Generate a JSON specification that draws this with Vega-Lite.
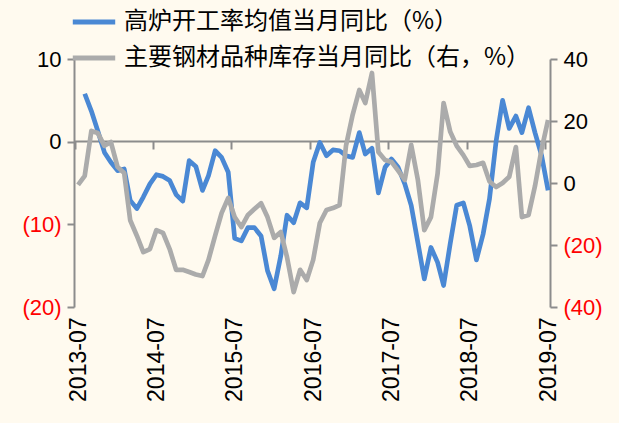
{
  "$schema": "https://vega.github.io/schema/vega-lite/v6.json",
  "width": 476,
  "height": 248,
  "autosize": {"type": "none"},
  "padding": {"left": 74, "top": 59, "right": 69, "bottom": 116},
  "background": "#FFFAEF",
  "config": {
    "view": {"stroke": null},
    "axis": {"grid": false, "labelFont": "Liberation Sans", "labelFontSize": 22, "labelColor": "black", "domainColor": "#8C8C8C", "tickColor": "#8C8C8C", "domainWidth": 2, "tickWidth": 2, "title": null}
  },
  "data": {"values": [
    {"month": "2013-07-01", "blast": null, "steel": -0.6},
    {"month": "2013-08-01", "blast": 5.8, "steel": 2.3},
    {"month": "2013-09-01", "blast": 3.7, "steel": 16.8},
    {"month": "2013-10-01", "blast": 1.3, "steel": 16.1},
    {"month": "2013-11-01", "blast": -1.3, "steel": 12.0},
    {"month": "2013-12-01", "blast": -2.5, "steel": 13.2},
    {"month": "2014-01-01", "blast": -3.5, "steel": 5.2},
    {"month": "2014-02-01", "blast": -3.3, "steel": 3.2},
    {"month": "2014-03-01", "blast": -7.1, "steel": -12.0},
    {"month": "2014-04-01", "blast": -8.1, "steel": -17.0},
    {"month": "2014-05-01", "blast": -6.7, "steel": -22.3},
    {"month": "2014-06-01", "blast": -5.1, "steel": -21.3},
    {"month": "2014-07-01", "blast": -4.0, "steel": -15.2},
    {"month": "2014-08-01", "blast": -4.2, "steel": -16.1},
    {"month": "2014-09-01", "blast": -4.7, "steel": -21.3},
    {"month": "2014-10-01", "blast": -6.4, "steel": -28.0},
    {"month": "2014-11-01", "blast": -7.2, "steel": -28.0},
    {"month": "2014-12-01", "blast": -2.3, "steel": -28.7},
    {"month": "2015-01-01", "blast": -3.0, "steel": -29.5},
    {"month": "2015-02-01", "blast": -5.9, "steel": -30.0},
    {"month": "2015-03-01", "blast": -4.1, "steel": -24.8},
    {"month": "2015-04-01", "blast": -1.1, "steel": -17.0},
    {"month": "2015-05-01", "blast": -1.9, "steel": -9.7},
    {"month": "2015-06-01", "blast": -3.7, "steel": -4.8},
    {"month": "2015-07-01", "blast": -11.7, "steel": -11.0},
    {"month": "2015-08-01", "blast": -12.0, "steel": -14.2},
    {"month": "2015-09-01", "blast": -10.4, "steel": -10.3},
    {"month": "2015-10-01", "blast": -10.4, "steel": -8.4},
    {"month": "2015-11-01", "blast": -11.4, "steel": -6.5},
    {"month": "2015-12-01", "blast": -15.6, "steel": -11.0},
    {"month": "2016-01-01", "blast": -17.8, "steel": -17.7},
    {"month": "2016-02-01", "blast": -13.8, "steel": -15.8},
    {"month": "2016-03-01", "blast": -8.9, "steel": -23.9},
    {"month": "2016-04-01", "blast": -9.8, "steel": -35.2},
    {"month": "2016-05-01", "blast": -7.4, "steel": -28.0},
    {"month": "2016-06-01", "blast": -8.0, "steel": -31.3},
    {"month": "2016-07-01", "blast": -2.5, "steel": -24.8},
    {"month": "2016-08-01", "blast": -0.1, "steel": -12.9},
    {"month": "2016-09-01", "blast": -1.7, "steel": -8.7},
    {"month": "2016-10-01", "blast": -1.0, "steel": -8.1},
    {"month": "2016-11-01", "blast": -1.1, "steel": -7.1},
    {"month": "2016-12-01", "blast": -1.7, "steel": 12.0},
    {"month": "2017-01-01", "blast": -1.9, "steel": 22.0},
    {"month": "2017-02-01", "blast": 1.1, "steel": 30.0},
    {"month": "2017-03-01", "blast": -1.5, "steel": 25.8},
    {"month": "2017-04-01", "blast": -0.8, "steel": 35.5},
    {"month": "2017-05-01", "blast": -6.2, "steel": 10.0},
    {"month": "2017-06-01", "blast": -3.1, "steel": 7.4},
    {"month": "2017-07-01", "blast": -2.1, "steel": 6.8},
    {"month": "2017-08-01", "blast": -3.1, "steel": 4.0},
    {"month": "2017-09-01", "blast": -5.1, "steel": 1.0},
    {"month": "2017-10-01", "blast": -7.7, "steel": 12.3},
    {"month": "2017-11-01", "blast": -12.2, "steel": 1.0},
    {"month": "2017-12-01", "blast": -16.6, "steel": -15.2},
    {"month": "2018-01-01", "blast": -12.8, "steel": -11.0},
    {"month": "2018-02-01", "blast": -14.6, "steel": 3.0},
    {"month": "2018-03-01", "blast": -17.4, "steel": 25.8},
    {"month": "2018-04-01", "blast": -12.3, "steel": 16.5},
    {"month": "2018-05-01", "blast": -7.7, "steel": 12.0},
    {"month": "2018-06-01", "blast": -7.4, "steel": 9.0},
    {"month": "2018-07-01", "blast": -10.2, "steel": 5.5},
    {"month": "2018-08-01", "blast": -14.3, "steel": 5.8},
    {"month": "2018-09-01", "blast": -11.2, "steel": 6.5},
    {"month": "2018-10-01", "blast": -6.9, "steel": 0.5},
    {"month": "2018-11-01", "blast": 0.1, "steel": -1.3},
    {"month": "2018-12-01", "blast": 5.0, "steel": 0.0},
    {"month": "2019-01-01", "blast": 1.6, "steel": 2.0},
    {"month": "2019-02-01", "blast": 3.1, "steel": 11.6},
    {"month": "2019-03-01", "blast": 1.1, "steel": -11.0},
    {"month": "2019-04-01", "blast": 4.1, "steel": -10.3},
    {"month": "2019-05-01", "blast": 1.1, "steel": -1.0},
    {"month": "2019-06-01", "blast": -1.7, "steel": 11.0},
    {"month": "2019-07-01", "blast": -5.9, "steel": 20.3}
  ]},
  "layer": [
    {
      "mark": {"type": "line", "strokeWidth": 4.7, "strokeJoin": "round"},
      "encoding": {
        "x": {
          "field": "month", "type": "temporal",
          "scale": {"type": "utc", "domain": [{"year": 2013, "month": 6, "date": 12, "utc": true}, {"year": 2019, "month": 7, "date": 10, "utc": true}]},
          "axis": {
            "orient": "bottom", "offset": -166, "labels": false, "domain": true, "ticks": true, "tickSize": 8,
            "values": [
              {"year": 2013, "month": 6, "date": 16, "utc": true},
              {"year": 2014, "month": 6, "date": 16, "utc": true},
              {"year": 2015, "month": 6, "date": 16, "utc": true},
              {"year": 2016, "month": 6, "date": 16, "utc": true},
              {"year": 2017, "month": 6, "date": 16, "utc": true},
              {"year": 2018, "month": 6, "date": 16, "utc": true},
              {"year": 2019, "month": 6, "date": 16, "utc": true}
            ]
          }
        },
        "y": {
          "field": "blast", "type": "quantitative",
          "scale": {"domain": [-20, 10], "nice": false, "zero": false},
          "axis": {
            "orient": "left", "values": [-20, -10, 0, 10], "tickSize": 7, "labelPadding": 6,
            "labelExpr": "datum.value < 0 ? '(' + abs(datum.value) + ')' : datum.value + '\u00a0'",
            "labelColor": {"condition": {"test": "datum.value < 0", "value": "#FF0000"}, "value": "black"}
          }
        },
        "color": {
          "datum": "高炉开工率均值当月同比（%）",
          "scale": {"domain": ["高炉开工率均值当月同比（%）", "主要钢材品种库存当月同比（右，%）"], "range": ["#4A88D4", "#ABABAB"]},
          "legend": {
            "orient": "none", "legendX": -4, "legendY": -61, "title": null,
            "symbolType": "stroke", "symbolSize": 1800, "symbolStrokeWidth": 5,
            "labelFont": "Noto Sans CJK SC", "labelFontSize": 24, "labelColor": "black",
            "rowPadding": -13, "labelOffset": 6, "labelLimit": 700
          }
        }
      }
    },
    {
      "mark": {"type": "line", "strokeWidth": 4.7, "strokeJoin": "round"},
      "encoding": {
        "x": {
          "field": "month", "type": "temporal",
          "scale": {"type": "utc", "domain": [{"year": 2013, "month": 6, "date": 12, "utc": true}, {"year": 2019, "month": 7, "date": 10, "utc": true}]},
          "axis": {
            "orient": "bottom", "domain": false, "ticks": false, "labelAngle": -90, "labelPadding": 10, "labelFontSize": 23,
            "labelExpr": "utcFormat(datum.value, '%Y-%m')",
            "values": [
              {"year": 2013, "month": 7, "date": 1, "utc": true},
              {"year": 2014, "month": 7, "date": 1, "utc": true},
              {"year": 2015, "month": 7, "date": 1, "utc": true},
              {"year": 2016, "month": 7, "date": 1, "utc": true},
              {"year": 2017, "month": 7, "date": 1, "utc": true},
              {"year": 2018, "month": 7, "date": 1, "utc": true},
              {"year": 2019, "month": 7, "date": 1, "utc": true}
            ]
          }
        },
        "y": {
          "field": "steel", "type": "quantitative",
          "scale": {"domain": [-40, 40], "nice": false, "zero": false},
          "axis": {
            "orient": "right", "values": [-40, -20, 0, 20, 40], "tickSize": 7, "labelPadding": 6,
            "labelExpr": "datum.value < 0 ? '(' + abs(datum.value) + ')' : datum.value + '\u00a0'",
            "labelColor": {"condition": {"test": "datum.value < 0", "value": "#FF0000"}, "value": "black"}
          }
        },
        "color": {"datum": "主要钢材品种库存当月同比（右，%）"}
      }
    }
  ],
  "resolve": {"scale": {"y": "independent"}, "axis": {"x": "independent"}}
}
